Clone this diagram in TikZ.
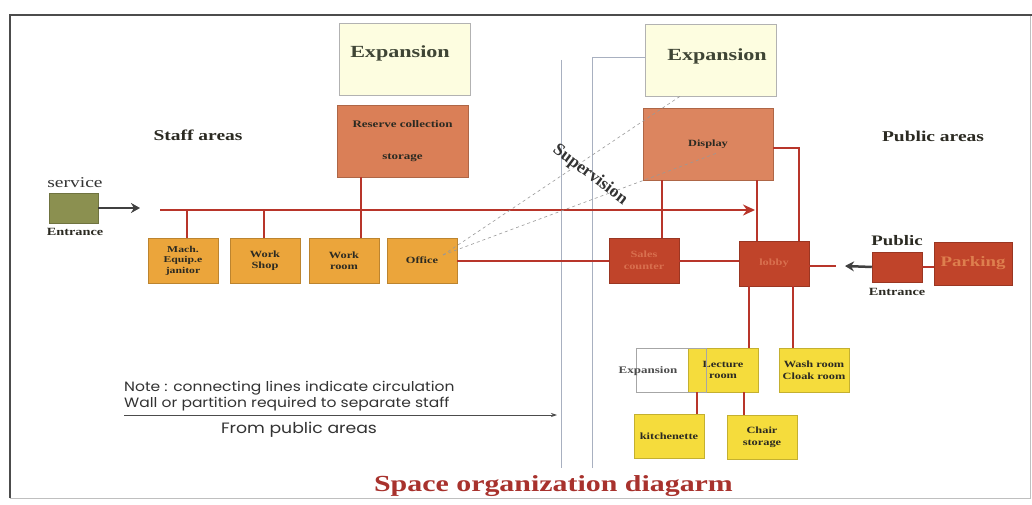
\documentclass[tikz,border=0pt]{standalone}
\usepackage{fontspec}
\setmainfont[FakeStretch=1.3]{Liberation Serif}
\newfontfamily\plainserif{Liberation Serif}
\newfontfamily\notefont[FakeStretch=1.15]{Poppins}
\usetikzlibrary{arrows.meta,calc}
\definecolor{redline}{HTML}{B8352A}
\definecolor{brick}{HTML}{C0442A}
\definecolor{salmon}{HTML}{DA7F57}
\definecolor{orangebox}{HTML}{EBA53B}
\definecolor{yellowbox}{HTML}{F5DC3C}
\definecolor{expfill}{HTML}{FDFDE0}
\definecolor{olive}{HTML}{8B9050}
\definecolor{darktxt}{HTML}{2B2A22}
\definecolor{exptxt}{HTML}{3F4535}
\definecolor{partition}{HTML}{A8B0C0}
\definecolor{titlered}{HTML}{A8322D}
\definecolor{dimtxt}{HTML}{D9704F}
\tikzset{
  room/.style={draw=#1!80!black, line width=0.5pt, inner sep=0pt, align=center, font=\bfseries\fontsize{9.5}{11.5}\selectfont, text=darktxt},
  orangeroom/.style={room=orangebox, fill=orangebox, minimum width=70pt, minimum height=45pt},
  yellowroom/.style={room=yellowbox, fill=yellowbox, minimum width=70pt, minimum height=44pt},
  brickroom/.style={room=brick, fill=brick, minimum width=70pt, minimum height=45pt, text=dimtxt},
  expbox/.style={draw=black!30, line width=0.5pt, fill=expfill, minimum width=131pt, minimum height=72pt, inner sep=0pt},
  exptext/.style={font=\bfseries\fontsize{17}{19}\selectfont, text=exptxt},
  circ/.style={draw=redline, line width=2pt},
  heading/.style={font=\bfseries\fontsize{15}{17}\selectfont, text=darktxt},
  thinpart/.style={draw=partition, line width=0.8pt},
  superv/.style={draw=black!40, dashed, line width=0.6pt},
  entryarrow/.style={draw=black!75, line width=2.5pt, -{Stealth[length=9pt,width=10pt]}},
  notetext/.style={font=\notefont\fontsize{13.5}{15}\selectfont, text=black!80, inner sep=0pt},
}
\begin{document}
\begin{tikzpicture}[x=1pt,y=-1pt]
\useasboundingbox (0,0) rectangle (1032,505);
\fill[white] (0,0) rectangle (1032,505);
% frame
\draw[black!25, line width=0.8pt] (10,15) rectangle (1030,498);
\draw[black!70, line width=2pt] (10,498) -- (10,15) -- (1032,15);

% partitions
\coordinate (pa1) at (561,60);
\coordinate (pa2) at (561,468);
\coordinate (pb1) at (592,57);
\coordinate (pb2) at (592,468);
\draw[thinpart] (pa1) -- (pa2);
\draw[thinpart] (pb2) -- (pb1) -- (655,57);

% top boxes
\node[expbox] (exp1) at (404.5,59) {};
\node[exptext] at (400,53) {Expansion};
\node[expbox] (exp2) at (711,60) {};
\node[exptext] at (717,56) {Expansion};
\node[room=salmon, fill=salmon, minimum width=131pt, minimum height=72pt, font=\bfseries\fontsize{10}{12}\selectfont] (reserve) at (402.5,141) {Reserve collection\\[20pt]storage};
\node[room=salmon, fill=salmon!95!white, minimum width=130pt, minimum height=72pt] (display) at (708,144) {Display};

% headings
\node[heading] at (198,135) {Staff areas};
\node[heading] at (933,136) {Public areas};

% service entrance
\node[draw=olive!80!black, fill=olive, minimum width=49pt, minimum height=30pt, inner sep=0pt] (service) at (73.5,208) {};
\node[font=\fontsize{15}{17}\selectfont, text=black!80] at (75,183) {service};
\node[font=\bfseries\fontsize{11}{13}\selectfont, text=darktxt] at (75,232) {Entrance};
\coordinate (servhead) at (140,208);
\draw[entryarrow] (service.east) -- (servhead);

% staff rooms
\node[orangeroom, font=\bfseries\fontsize{9}{10.5}\selectfont] (mach) at (183,260.5) {Mach.\\Equip.e\\janitor};
\node[orangeroom] (workshop) at (265,260.5) {Work\\Shop};
\node[orangeroom] (workroom) at (344,260.5) {Work\\room};
\node[orangeroom] (office) at (422,260.5) {Office};

% public rooms
\node[brickroom] (sales) at (644,260.5) {Sales\\counter};
\node[brickroom] (lobby) at (774,263.5) {lobby};
\node[room=brick, fill=brick, minimum width=50pt, minimum height=30pt] (pubent) at (897,267) {};
\node[room=brick, fill=brick, minimum width=78pt, minimum height=43pt, font=\bfseries\fontsize{14.5}{16}\selectfont, text=salmon!90!orange] (parking) at (973,263.5) {Parking};
\node[heading, font=\bfseries\fontsize{14.5}{16}\selectfont] at (897,241) {Public};
\node[font=\bfseries\fontsize{11}{13}\selectfont, text=darktxt] at (897,292) {Entrance};

% lower public rooms
\node[draw=black!35, fill=white, minimum width=70pt, minimum height=44pt, inner sep=0pt] (expsmall) at (671,370) {};
\node[yellowroom] (lecture) at (723,370) {Lecture\\room};
\draw[black!35, line width=0.5pt] (expsmall.north west) rectangle (expsmall.south east);
\node[font=\bfseries\fontsize{10}{12}\selectfont, text=black!70] at (648,371) {Expansion};
\node[yellowroom] (wash) at (814,370) {Wash room\\Cloak room};
\node[yellowroom] (kitchen) at (669,436.5) {kitchenette};
\node[yellowroom] (chair) at (762,437) {Chair\\storage};

% circulation lines
\coordinate (mainstart) at (160,210);
\coordinate (mainend) at (755,210);
\draw[circ, -{Stealth[length=12pt,width=11pt]}] (mainstart) -- (mainend);
\coordinate (c1) at (187,210);
\coordinate (c2) at (264,210);
\draw[circ] (c1) -- (c1 |- mach.north);
\draw[circ] (c2) -- (c2 |- workshop.north);
\coordinate (wr) at (361,0);
\draw[circ] (reserve.south -| wr) -- (workroom.north -| wr);
\draw[circ] (office.east) -- (sales.west);
\draw[circ] (sales.east) -- (sales.east -| lobby.west);
\coordinate (d1) at (662,0);
\coordinate (d2) at (757,0);
\draw[circ] (display.south -| d1) -- (sales.north -| d1);
\draw[circ] (display.south -| d2) -- (lobby.north -| d2);
\coordinate (dr) at (799,148);
\draw[circ] (display.east |- dr) -- (dr) -- (lobby.north -| dr);
\coordinate (lr) at (836,266);
\draw[circ] (lobby.east |- lr) -- (lr);
\draw[circ] (pubent.east) -- (parking.west |- pubent.east);
\coordinate (pubhead) at (845,266);
\draw[entryarrow] (pubent.west) -- (pubhead);
\coordinate (l1) at (749,0);
\coordinate (l2) at (793,0);
\draw[circ] (lobby.south -| l1) -- (lecture.north -| l1);
\draw[circ] (lobby.south -| l2) -- (wash.north -| l2);
\coordinate (k1) at (697,0);
\coordinate (k2) at (744,0);
\draw[circ] (lecture.south -| k1) -- (kitchen.north -| k1);
\draw[circ] (lecture.south -| k2) -- (chair.north -| k2);

% supervision
\coordinate (sv) at (443,255);
\coordinate (sve) at (682,95);
\coordinate (svd) at (717,153);
\draw[superv] (sv) -- (sve);
\draw[superv] (sv) -- (svd);
\node[font=\plainserif\bfseries\fontsize{17.5}{19}\selectfont, text=black!80, rotate=-37] at (590,175) {Supervision};

% note
\node[notetext, anchor=base west] at (124,391) {Note : connecting lines indicate circulation};
\node[notetext, anchor=base west] at (124,407) {Wall or partition required to separate staff};
\coordinate (ns) at (124,415);
\coordinate (ne) at (557,415);
\draw[black!70, line width=0.8pt, -{Stealth[length=6pt,width=4pt]}] (ns) -- (ne);
\node[notetext, font=\notefont\fontsize{15}{17}\selectfont] at (299,430) {From public areas};

% title
\node[font=\bfseries\fontsize{23}{25}\selectfont, text=titlered] at (553.5,486) {Space organization diagarm};
\end{tikzpicture}
\end{document}
